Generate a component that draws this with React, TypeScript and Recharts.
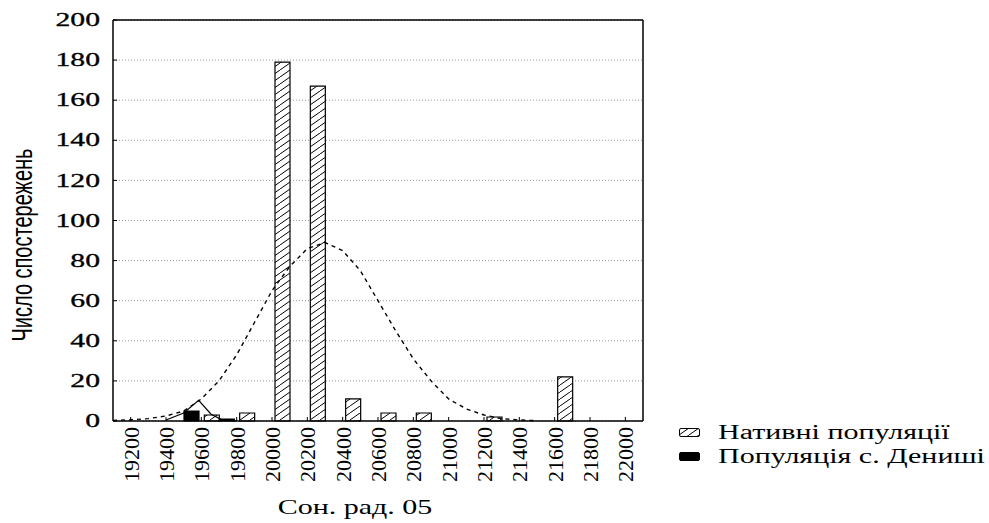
import React from "react";
import {
  ComposedChart,
  Bar,
  Line,
  XAxis,
  YAxis,
  CartesianGrid,
  Legend,
} from "recharts";

// bins are 200 wide, x is the bin centre
const binCentres = [
  19300, 19500, 19700, 19900, 20100, 20300, 20500, 20700, 20900, 21100,
  21300, 21500, 21700, 21900,
];
const nativeCounts = [0, 0, 3, 4, 179, 167, 11, 4, 4, 0, 2, 0, 22, 0];
const denishiCounts = [0, 5, 1, 0, 0, 0, 0, 0, 0, 0, 0, 0, 0, 0];

const xTicks = [
  19200, 19400, 19600, 19800, 20000, 20200, 20400, 20600, 20800, 21000,
  21200, 21400, 21600, 21800, 22000,
];
const yTicks = [0, 20, 40, 60, 80, 100, 120, 140, 160, 180, 200];

// fitted normal curves
const nativeFitX = [
  19100, 19200, 19300, 19400, 19500, 19600, 19700, 19800, 19900, 20000,
  20100, 20200, 20300, 20400, 20500, 20600, 20700, 20800, 20900, 21000,
  21100, 21200, 21300, 21400, 21500,
];
const nativeFitY = [
  0.3, 0.6, 1.2, 2.5, 5, 11, 20, 33, 49, 65, 77, 86, 89, 85, 75, 60, 45, 31,
  20, 11, 6, 3, 1.2, 0.5, 0.2,
];
const denishiFitX = [19400, 19500, 19585, 19655, 19715, 19800];
const denishiFitY = [0.5, 4, 10.3, 3.4, 0.7, 0];

const bars = binCentres.map((x, i) => ({
  x,
  native: nativeCounts[i],
  denishi: denishiCounts[i],
}));
const nativeFit = nativeFitX.map((x, i) => ({ x, y: nativeFitY[i] }));
const denishiFit = denishiFitX.map((x, i) => ({ x, y: denishiFitY[i] }));

const legendItems = [
  { label: "Нативні популяції", fill: "url(#hatch)" },
  { label: "Популяція с. Дениші", fill: "#000" },
];

const serif = "'Liberation Serif', 'Times New Roman', serif";

const XTick = ({ x, y, payload }: any) => (
  <text
    transform={`translate(${x + 8},${y}) rotate(-90)`}
    textAnchor="end"
    fontFamily={serif}
    fontSize={22}
    fill="#000"
  >
    {payload.value}
  </text>
);

const YTick = ({ x, y, payload }: any) => (
  <text
    transform={`translate(${x},${y}) scale(1.65,1)`}
    textAnchor="end"
    dy="0.34em"
    fontFamily={serif}
    fontSize={18}
    fill="#000"
    stroke="#000"
    strokeWidth={0.3}
  >
    {payload.value}
  </text>
);

const XTitle = () => (
  <text
    transform="translate(355,514) scale(1.5,1)"
    textAnchor="middle"
    fontFamily={serif}
    fontSize={20}
    fill="#000"
  >
    Сон. рад. 05
  </text>
);

const YTitle = () => (
  <text
    transform="translate(32,245) rotate(-90) scale(1,1.5)"
    textAnchor="middle"
    fontFamily="'Liberation Sans', Arial, sans-serif"
    fontSize={20}
    fill="#000"
  >
    Число спостережень
  </text>
);

const LegendBox = () => (
  <div style={{ fontFamily: serif, fontSize: 20, color: "#000" }}>
    {legendItems.map((item) => (
      <div
        key={item.label}
        style={{ height: 24, display: "flex", alignItems: "center" }}
      >
        <svg width={21} height={9} style={{ marginRight: 18 }}>
          <rect
            x={0.5}
            y={0.5}
            width={20}
            height={8}
            rx={1.5}
            fill={item.fill}
            stroke="#000"
          />
        </svg>
        <span
          style={{
            display: "inline-block",
            transform: "scaleX(1.5)",
            transformOrigin: "left center",
            whiteSpace: "nowrap",
          }}
        >
          {item.label}
        </span>
      </div>
    ))}
  </div>
);

export default function App() {
  return (
    <div
      style={{
        position: "absolute",
        left: 0,
        top: 0,
        width: 989,
        height: 523,
        background: "#fff",
      }}
    >
      <svg width={0} height={0} style={{ position: "absolute" }}>
        <defs>
          <pattern
            id="hatch"
            patternUnits="userSpaceOnUse"
            width={10}
            height={7}
          >
            <rect width={10} height={7} fill="#fff" />
            <path
              d="M0,7 L10,0 M-10,7 L0,0 M10,7 L20,0"
              stroke="#000"
              strokeWidth={1}
            />
          </pattern>
        </defs>
      </svg>
      <ComposedChart
        width={989}
        height={523}
        data={bars}
        margin={{ top: 0, right: 0, bottom: 0, left: 0 }}
        barGap={0}
      >
        <CartesianGrid
          vertical={false}
          stroke="#999"
          strokeDasharray="1 2"
        />
        <XAxis
          dataKey="x"
          type="number"
          domain={[19100, 22100]}
          allowDataOverflow
          ticks={xTicks}
          interval={0}
          height={102}
          tickSize={-4}
          tickMargin={10}
          tick={<XTick />}
          tickLine={{ stroke: "#000" }}
          axisLine={{ stroke: "#000", strokeWidth: 1.5 }}
          label={<XTitle />}
        />
        <XAxis
          xAxisId="top"
          orientation="top"
          dataKey="x"
          type="number"
          domain={[19100, 22100]}
          allowDataOverflow
          ticks={xTicks}
          interval={0}
          height={20}
          tickSize={-4}
          tick={false}
          tickLine={{ stroke: "#000" }}
          axisLine={{ stroke: "#000", strokeWidth: 1.5 }}
        />
        <YAxis
          type="number"
          domain={[0, 200]}
          ticks={yTicks}
          interval={0}
          width={113}
          tickSize={-4}
          tickMargin={17}
          tick={<YTick />}
          tickLine={{ stroke: "#000" }}
          axisLine={{ stroke: "#000", strokeWidth: 1.5 }}
          label={<YTitle />}
        />
        <YAxis
          yAxisId="right"
          orientation="right"
          type="number"
          domain={[0, 200]}
          ticks={yTicks}
          interval={0}
          width={346}
          tickSize={-4}
          tick={false}
          tickLine={{ stroke: "#000" }}
          axisLine={{ stroke: "#000", strokeWidth: 1.5 }}
        />
        <Bar
          dataKey="native"
          barSize={15}
          fill="url(#hatch)"
          stroke="#000"
          strokeWidth={1.2}
          isAnimationActive={false}
        />
        <Bar
          dataKey="denishi"
          barSize={15}
          fill="#000"
          stroke="#000"
          strokeWidth={1.2}
          isAnimationActive={false}
        />
        <Line
          xAxisId="top"
          data={nativeFit}
          dataKey="y"
          type="linear"
          stroke="#000"
          strokeWidth={1.4}
          strokeDasharray="4 4"
          dot={false}
          activeDot={false}
          isAnimationActive={false}
        />
        <Line
          xAxisId="top"
          data={denishiFit}
          dataKey="y"
          type="linear"
          stroke="#000"
          strokeWidth={1.2}
          dot={false}
          activeDot={false}
          isAnimationActive={false}
        />
        <Legend
          layout="horizontal"
          verticalAlign="middle"
          align="center"
          content={<LegendBox />}
          wrapperStyle={{ left: 679, top: 420, width: 300 }}
        />
      </ComposedChart>
    </div>
  );
}
